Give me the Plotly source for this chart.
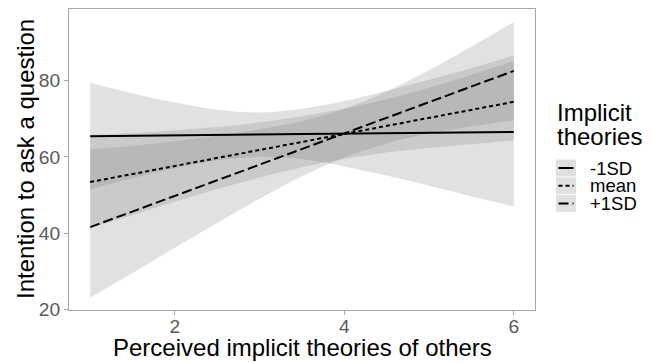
import plotly.graph_objects as go

# ---------------- data ----------------
x_grid = [1, 1.5, 2, 2.5, 3, 3.5, 4, 4.5, 5, 5.5, 6]

neg_lo = [51.5, 54.4, 57.0, 59.1, 60.0, 59.4, 57.5, 55.1, 52.4, 49.6, 47.0]
neg_hi = [79.3, 76.6, 74.2, 72.3, 71.6, 72.6, 74.6, 77.3, 80.2, 83.2, 86.6]

mean_lo = [41.4, 44.8, 48.3, 51.6, 54.6, 57.3, 59.4, 61.1, 62.3, 63.3, 64.3]
mean_hi = [65.8, 66.2, 66.9, 67.8, 69.0, 70.6, 72.6, 75.1, 78.1, 81.5, 85.1]

pos_lo = [23.2, 29.6, 36.2, 42.7, 49.0, 54.9, 59.8, 63.5, 66.1, 68.0, 69.6]
pos_hi = [62.0, 62.9, 64.1, 65.5, 67.2, 69.4, 72.6, 77.1, 82.7, 88.9, 95.3]

x_line = [1, 6]
neg_line = [65.4, 66.5]
mean_line = [53.4, 74.4]
pos_line = [41.6, 82.5]

legend_title = ["Implicit", "theories"]
legend_labels = ["-1SD", "mean", "+1SD"]
x_ticks = [2, 4, 6]
y_ticks = [20, 40, 60, 80]

# ---------------- style ----------------
FONT = "Liberation Sans, Arial, Helvetica, sans-serif"
RIB = "rgba(128,128,128,0.24)"
W, H = 655, 362
L, R, T, B = 69, 535, 9, 310  # panel in px
dashes = ["solid", "4px,3px", "10px,4px"]

fig = go.Figure()

for lo, hi in [(neg_lo, neg_hi), (mean_lo, mean_hi), (pos_lo, pos_hi)]:
    fig.add_trace(go.Scatter(x=x_grid, y=lo, mode="lines", line=dict(width=0, shape="spline"),
                             showlegend=False, hoverinfo="skip"))
    fig.add_trace(go.Scatter(x=x_grid, y=hi, mode="lines", line=dict(width=0, shape="spline"),
                             fill="tonexty", fillcolor=RIB, showlegend=False, hoverinfo="skip"))

for ys, d in zip([neg_line, mean_line, pos_line], dashes):
    fig.add_trace(go.Scatter(x=x_line, y=ys, mode="lines",
                             line=dict(color="black", width=2, dash=d),
                             showlegend=False, hoverinfo="skip"))

def px_x(px):
    return (px - L) / (R - L)

def px_y(py):
    return (B - py) / (B - T)

shapes = []
annotations = []
# legend keys
key_tops = [159.5, 177.3, 195.1]
for i, (lab, d) in enumerate(zip(legend_labels, dashes)):
    top = key_tops[i]
    bot = top + 17.0
    shapes.append(dict(type="rect", xref="paper", yref="paper",
                       x0=px_x(556), x1=px_x(576), y0=px_y(bot), y1=px_y(top),
                       fillcolor="#E0E0E0", line=dict(width=0), layer="above"))
    cy = (top + bot) / 2
    shapes.append(dict(type="line", xref="paper", yref="paper",
                       x0=px_x(558.5), x1=px_x(573.5), y0=px_y(cy), y1=px_y(cy),
                       line=dict(color="black", width=2, dash=d), layer="above"))
    annotations.append(dict(text=lab, xref="paper", yref="paper", x=px_x(588), y=px_y(cy),
                            xanchor="left", yanchor="middle", showarrow=False,
                            font=dict(family=FONT, size=18.5, color="black")))

for txt, cy in zip(legend_title, [112, 136]):
    annotations.append(dict(text=txt, xref="paper", yref="paper", x=px_x(555), y=px_y(cy),
                            xanchor="left", yanchor="middle", showarrow=False,
                            font=dict(family=FONT, size=24, color="black")))

# axis titles
annotations.append(dict(text="Perceived implicit theories of others", xref="paper", yref="paper",
                        x=0.5, y=px_y(347), xanchor="center", yanchor="middle", showarrow=False,
                        font=dict(family=FONT, size=24, color="black")))
annotations.append(dict(text="Intention to ask a question", xref="paper", yref="paper",
                        x=px_x(25), y=px_y(159), xanchor="center", yanchor="middle", showarrow=False,
                        textangle=-90, font=dict(family=FONT, size=24, color="black")))

axis_common = dict(showgrid=False, zeroline=False, showline=True, mirror=True,
                   linecolor="#A6A6A6", linewidth=1, ticks="outside", ticklen=4,
                   tickcolor="#A6A6A6", tickwidth=1,
                   tickfont=dict(family=FONT, size=19.2, color="#5A5A5A"))

fig.update_layout(
    width=W, height=H,
    margin=dict(l=L, r=W - R, t=T, b=H - B),
    paper_bgcolor="white", plot_bgcolor="white",
    xaxis=dict(range=[0.75, 6.25], tickvals=x_ticks, ticklabelstandoff=-5, **axis_common),
    yaxis=dict(range=[19.9, 98.7], tickvals=y_ticks, **axis_common),
    shapes=shapes, annotations=annotations, showlegend=False,
)

fig.write_html("out.html", config={"displayModeBar": False},
               post_script="document.body.style.margin='0';")
